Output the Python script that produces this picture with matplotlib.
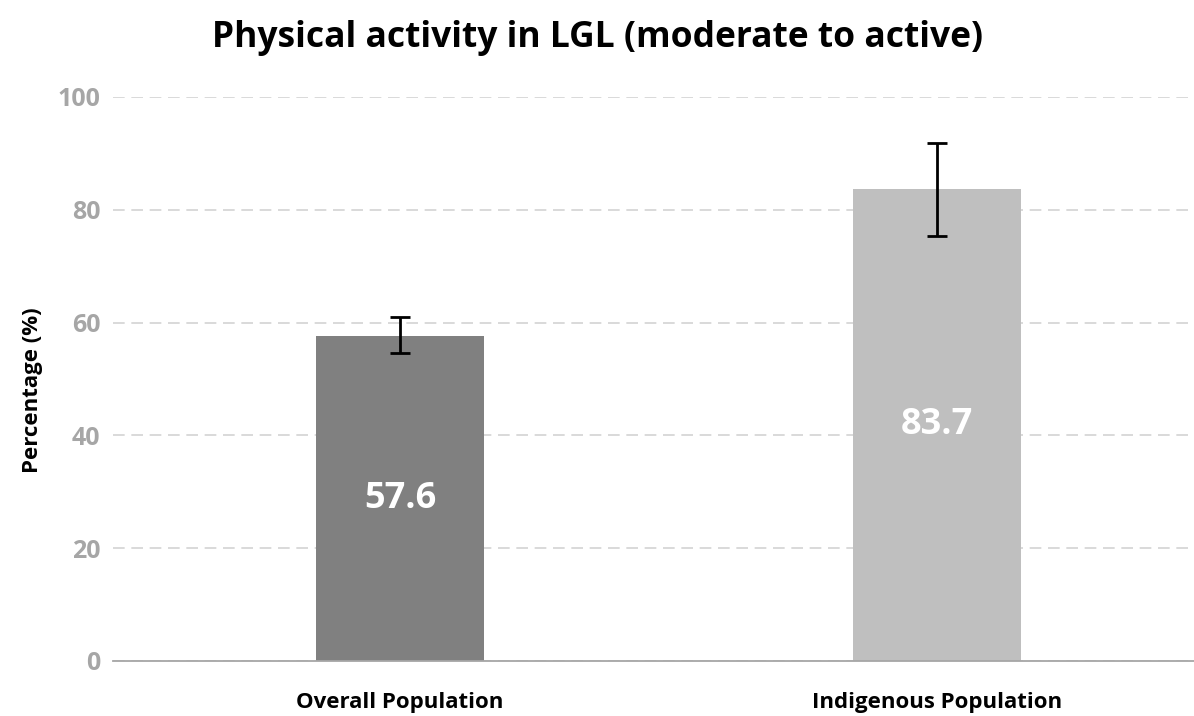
import matplotlib.pyplot as plt

# Datos
categories = ["Overall Population", "Indigenous Population"]
values = [57.6, 83.7]
err_low = [54.6, 75.4]
err_high = [61.0, 91.8]
bar_colors = ["#808080", "#BFBFBF"]
yticks = [0, 20, 40, 60, 80, 100]

FONT = "Open Sans"

fig = plt.figure(figsize=(11.94, 7.16), dpi=100)
ax = fig.add_axes([113 / 1194, 55 / 716, 1 - 113 / 1194, 564 / 716])

x = list(range(len(categories)))
yerr = [[v - lo for v, lo in zip(values, err_low)],
        [hi - v for v, hi in zip(values, err_high)]]

ax.bar(x, values, width=0.313, color=bar_colors, zorder=2)
ax.errorbar(x, values, yerr=yerr, fmt="none", ecolor="black",
            elinewidth=2, capsize=7, capthick=2, zorder=3)

for xi, v in zip(x, values):
    ax.text(xi, v / 2, f"{v}", ha="center", va="center", color="white",
            fontsize=26, fontweight="bold", family=FONT, zorder=4)

ax.set_xlim(-0.5345, 1.4786)
ax.set_ylim(0, 100)
ax.set_yticks(yticks)
ax.yaxis.grid(True, linestyle=(0, (7, 4)), color="#D3D3D3", linewidth=1.2, zorder=0)
ax.set_axisbelow(True)

for s in ["top", "right", "left"]:
    ax.spines[s].set_visible(False)
ax.spines["bottom"].set_color("#A6A6A6")
ax.spines["bottom"].set_linewidth(1.3)

ax.set_xticks(x)
ax.set_xticklabels(categories, fontsize=16, fontweight="bold", family=FONT)
ax.tick_params(axis="x", length=0, pad=22)
ax.tick_params(axis="y", length=0, pad=9, labelcolor="#A6A6A6")
for lab in ax.get_yticklabels():
    lab.set_fontsize(18)
    lab.set_fontweight("bold")
    lab.set_family(FONT)

fig.text(33 / 1194, 1 - 390 / 716, "Percentage (%)", rotation=90,
         ha="center", va="center", fontsize=16, fontweight="bold", family=FONT)

fig.text(0.5, 1 - 38 / 716, "Physical activity in LGL (moderate to active)",
         ha="center", va="center", fontsize=25.5, fontweight="bold", family=FONT)

fig.savefig("out.png", dpi=100)
